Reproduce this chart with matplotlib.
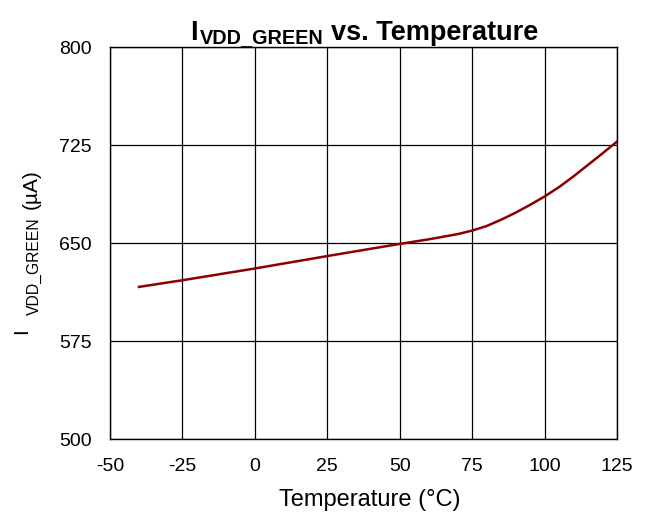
import matplotlib
matplotlib.use('Agg')
import matplotlib.pyplot as plt

# Dane
temperatura = [-40, -25, 0, 25, 50, 60, 70, 75, 80, 85, 90, 95, 100, 105, 110, 115, 120, 125]
prad = [616.4, 621.5, 630.5, 640, 649.3, 652.8, 656.8, 659.5, 663, 667.8, 673.2, 679.2,
        685.6, 692.8, 701, 709.8, 718.6, 727.6]

x_ticks = [-50, -25, 0, 25, 50, 75, 100, 125]
y_ticks = [500, 575, 650, 725, 800]

plt.rcParams['font.family'] = ['Liberation Sans', 'DejaVu Sans']
plt.rcParams['axes.unicode_minus'] = False

W, H = 651, 516
fig = plt.figure(figsize=(W / 100, H / 100), dpi=100)
ax = fig.add_axes([110 / W, 1 - 439 / H, 507 / W, 392 / H])

ax.plot(temperatura, prad, color='#8B0000', linewidth=1.8)

ax.set_xlim(-50, 125)
ax.set_ylim(500, 800)
ax.set_xticks(x_ticks)
ax.set_yticks(y_ticks)
ax.tick_params(axis='x', length=0, labelsize=14, pad=14)
ax.tick_params(axis='y', length=0, labelsize=14, pad=13)
ax.grid(True, color='black', linewidth=0.9)
for s in ax.spines.values():
    s.set_color('black')
    s.set_linewidth(1.0)


def px(x, y):
    return x / W, 1 - y / H


# tytul z indeksem dolnym
fig.text(*px(190, 40), 'I', fontsize=19.5, fontweight='bold', ha='left', va='baseline')
fig.text(*px(200, 43), 'VDD_GREEN', fontsize=14.3, fontweight='bold', ha='left', va='baseline')
fig.text(*px(331, 40), 'vs. Temperature', fontsize=19.5, fontweight='bold', ha='left', va='baseline')

# os X
fig.text(*px(370, 506), 'Temperature (°C)', fontsize=17, ha='center', va='baseline')

# os Y z indeksem dolnym
fig.text(*px(27, 334), 'I', fontsize=15, rotation=90, rotation_mode='anchor',
         ha='left', va='baseline')
fig.text(*px(39, 315), 'VDD_GREEN', fontsize=11.3, rotation=90, rotation_mode='anchor',
         ha='left', va='baseline')
fig.text(*px(37, 209), '(µA)', fontsize=15, rotation=90, rotation_mode='anchor',
         ha='left', va='baseline')

fig.savefig('out.png', dpi=100)
